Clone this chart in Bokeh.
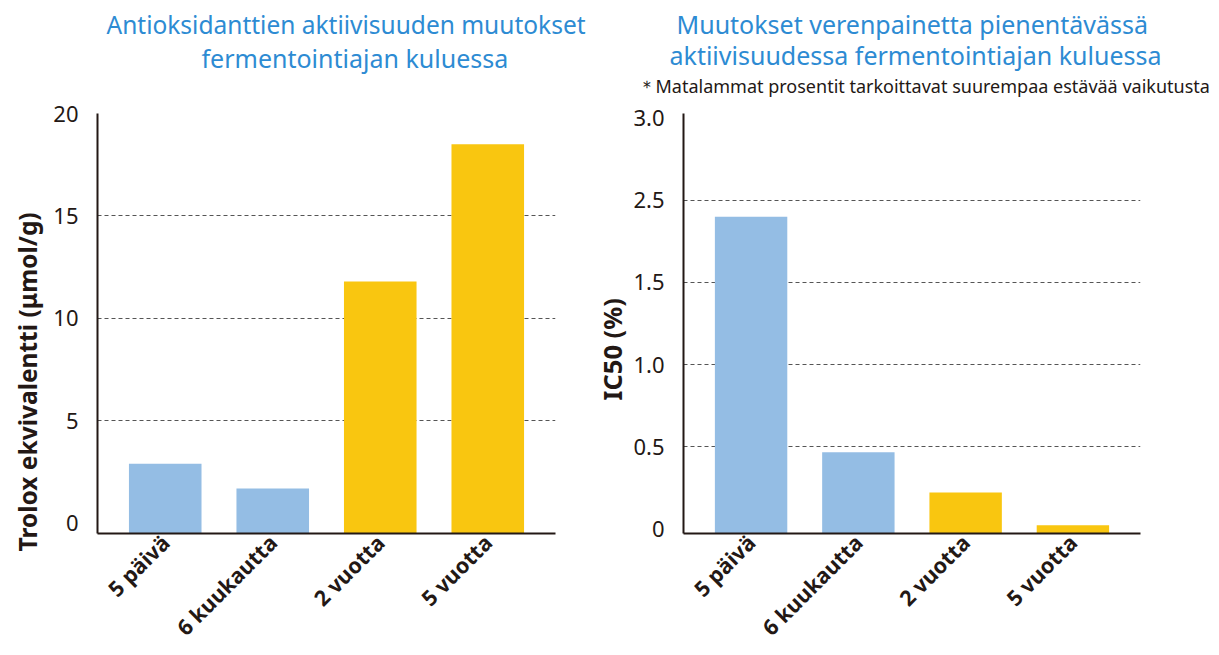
import math
from bokeh.plotting import figure
from bokeh.models import FactorRange, Range1d, FixedTicker, Title
from bokeh.layouts import row
from bokeh.embed import file_html
from bokeh.resources import INLINE

# ---- data ----
categories = ["5 päivä", "6 kuukautta", "2 vuotta", "5 vuotta"]
antioxidant = [2.9, 1.7, 11.8, 18.5]          # Trolox ekvivalentti (µmol/g)
ic50 = [1.90, 0.465, 0.22, 0.02]              # IC50 (%), as drawn on the axis
bar_colors = ["#94BDE4", "#94BDE4", "#F9C610", "#F9C610"]
left_ticks = [0, 5, 10, 15, 20]
left_grid = [5, 10, 15]
right_ticks = [0.0, 0.5, 1.0, 1.5, 2.0, 2.5]
right_tick_labels = ["0", "0.5", "1.0", "1.5", "2.5", "3.0"]
right_grid = [0.5, 1.0, 1.5, 2.0]

title_left = ["Antioksidanttien aktiivisuuden muutokset", "fermentointiajan kuluessa"]
title_right = ["Muutokset verenpainetta pienentävässä", "aktiivisuudessa fermentointiajan kuluessa"]
note_right = "＊Matalammat prosentit tarkoittavat suurempaa  estävää vaikutusta"
ylabel_left = "Trolox ekvivalentti (μmol/g)"
ylabel_right = "IC50 (%)"

INK = "#231815"
BLUE_TXT = "#2D8BD3"
FONT = "Noto Sans"


def style(p, ticks, grid):
    p.outline_line_color = None
    p.background_fill_color = "white"
    p.border_fill_color = "white"
    p.xgrid.grid_line_color = None
    p.ygrid.ticker = FixedTicker(ticks=grid)
    p.ygrid.grid_line_color = "#555555"
    p.ygrid.grid_line_dash = "4 3"
    p.ygrid.grid_line_width = 1
    p.yaxis.ticker = FixedTicker(ticks=ticks)
    for ax in (p.xaxis[0], p.yaxis[0]):
        ax.axis_line_color = INK
        ax.axis_line_width = 2
        ax.major_tick_line_color = None
        ax.minor_tick_line_color = None
        ax.major_label_text_color = INK
        ax.major_label_text_font = FONT
    p.yaxis.major_label_text_font_size = "22px"
    p.yaxis.major_label_standoff = 13
    p.xaxis.major_label_text_font_size = "21.5px"
    p.xaxis.major_label_text_font_style = "bold"
    p.xaxis.major_label_orientation = math.pi / 4
    p.xaxis.major_label_standoff = -1


def head(p, text, offset, size, color, standoff, pad_bottom=0):
    p.add_layout(Title(text=text, align="left", offset=offset, text_font=FONT,
                       text_font_size=size, text_color=color, text_font_style="normal",
                       standoff=standoff,
                       padding=dict(left=0, right=0, top=0, bottom=pad_bottom)), "above")


def ylab(p, text, offset, standoff, size):
    p.add_layout(Title(text=text, align="left", offset=offset, text_font=FONT,
                       text_font_size=size, text_color=INK, text_font_style="bold",
                       standoff=standoff), "left")


# ---- left chart ----
p1 = figure(width=586, height=655, output_backend="svg", toolbar_location=None,
            x_range=FactorRange(*categories, range_padding=0.13, range_padding_units="absolute"),
            y_range=Range1d(-0.5, 20),
            min_border_left=97, min_border_right=31, min_border_top=113, min_border_bottom=122)
p1.vbar(x=categories, top=antioxidant, bottom=-0.5, width=0.675, color=bar_colors, line_color=None)
style(p1, left_ticks, left_grid)
head(p1, title_left[1], 104, "25px", BLUE_TXT, 0, 39)
head(p1, title_left[0], 9, "24.5px", BLUE_TXT, -4)
ylab(p1, ylabel_left, -18, 13, "24.5px")

# ---- right chart ----
p2 = figure(width=630, height=655, output_backend="svg", toolbar_location=None,
            x_range=FactorRange(*categories, range_padding=0.13, range_padding_units="absolute"),
            y_range=Range1d(-0.03, 2.53),
            min_border_left=97, min_border_right=76, min_border_top=113, min_border_bottom=122)
p2.vbar(x=categories, top=ic50, bottom=-0.03, width=0.675, color=bar_colors, line_color=None)
style(p2, right_ticks, right_grid)
p2.yaxis.major_label_overrides = {t: l for t, l in zip(right_ticks, right_tick_labels)}
head(p2, note_right, -46, "18px", INK, 0, 16)
head(p2, title_right[1], -14, "25px", BLUE_TXT, 0)
head(p2, title_right[0], -7, "25px", BLUE_TXT, -11)
ylab(p2, ylabel_right, 133, 3, "25.5px")

layout = row(p1, p2)
open("out.html", "w").write(file_html(layout, INLINE))
